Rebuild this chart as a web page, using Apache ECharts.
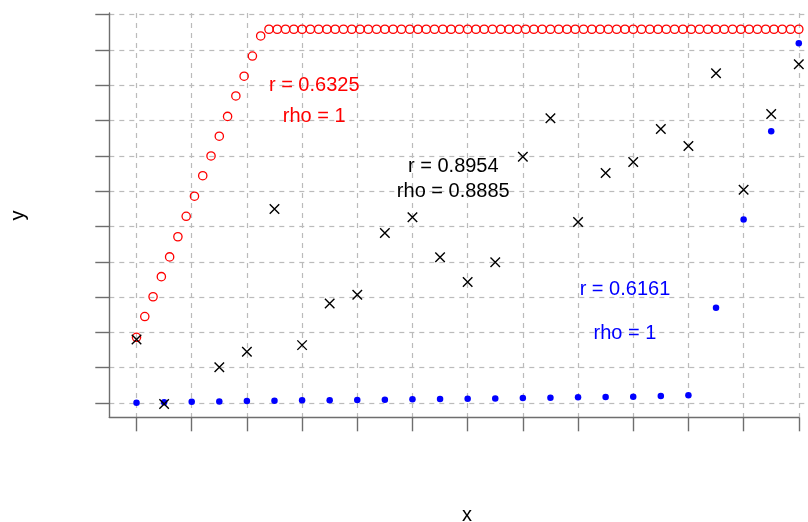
<!DOCTYPE html>
<html>
<head>
<meta charset="utf-8">
<script src="https://cdn.jsdelivr.net/npm/echarts@6/dist/echarts.min.js"></script>
<style>
html,body{margin:0;padding:0;background:#fff;}
#chart{width:808px;height:522px;}
</style>
</head>
<body>
<div id="chart"></div>
<script>
// ---- data ----
const xTicks = [0,1,2,3,4,5,6,7,8,9,10,11,12];
const yTicks = [0,1,2,3,4,5,6,7,8,9,10,11];

const redX = [0,0.15,0.3,0.45,0.6,0.75,0.9,1.05,1.2,1.35,
  1.5,1.65,1.8,1.95,2.1,2.25,2.4,2.55,2.7,2.85,
  3,3.15,3.3,3.45,3.6,3.75,3.9,4.05,4.2,4.35,
  4.5,4.65,4.8,4.95,5.1,5.25,5.4,5.55,5.7,5.85,
  6,6.15,6.3,6.45,6.6,6.75,6.9,7.05,7.2,7.35,
  7.5,7.65,7.8,7.95,8.1,8.25,8.4,8.55,8.7,8.85,
  9,9.15,9.3,9.45,9.6,9.75,9.9,10.05,10.2,10.35,
  10.5,10.65,10.8,10.95,11.1,11.25,11.4,11.55,11.7,11.85,
  12];
const redY = [1.86,2.45,3.01,3.58,4.14,4.71,5.29,5.86,6.44,7.0,
  7.56,8.12,8.7,9.26,9.83,10.4,
  10.59,10.59,10.59,10.59,10.59,10.59,10.59,10.59,10.59,10.59,
  10.59,10.59,10.59,10.59,10.59,10.59,10.59,10.59,10.59,10.59,
  10.59,10.59,10.59,10.59,10.59,10.59,10.59,10.59,10.59,10.59,
  10.59,10.59,10.59,10.59,10.59,10.59,10.59,10.59,10.59,10.59,
  10.59,10.59,10.59,10.59,10.59,10.59,10.59,10.59,10.59,10.59,
  10.59,10.59,10.59,10.59,10.59,10.59,10.59,10.59,10.59,10.59,
  10.59,10.59,10.59,10.59,10.59];

const ptX = [0,0.5,1,1.5,2,2.5,3,3.5,4,4.5,5,5.5,6,6.5,7,7.5,8,8.5,9,9.5,10,10.5,11,11.5,12];
const blackY = [1.8,-0.03,null,1.01,1.45,5.5,1.64,2.82,3.07,4.82,5.26,4.13,3.43,3.99,6.98,8.07,5.13,6.52,6.83,7.76,7.28,9.34,6.04,8.19,9.6];
const blueY = [0.01,0.02,0.035,0.045,0.055,0.065,0.075,0.08,0.085,0.095,0.105,0.115,0.12,0.13,0.14,0.15,0.16,0.17,0.175,0.2,0.22,2.7,5.2,7.7,10.19];

const noteX = [3.22,3.22,5.74,5.74,8.85,8.85];
const noteY = [9.01,8.13,6.69,5.98,3.23,1.98];
const noteText = ['r = 0.6325','rho = 1','r = 0.8954','rho = 0.8885','r = 0.6161','rho = 1'];
const noteColor = ['#ff0000','#ff0000','#000000','#000000','#0000ff','#0000ff'];

const xTitle = 'x';
const yTitle = 'y';

// ---- layout ----
const FONT = '"Liberation Sans", Arial, Helvetica, sans-serif';
const gridCol = '#bbbbbb';
const axisCol = '#6e6e6e';
const pairs = (xs, ys) => xs.map((x, i) => [x, ys[i]]);

const hidden = {show:false};
const option = {
  animation:false,
  backgroundColor:'#ffffff',
  grid:[
    {left:109.3, right:9.2, top:13, bottom:104.7, outerBoundsMode:'none', containLabel:false},
    {left:136.5, right:9.2, top:13, bottom:104.7, outerBoundsMode:'none', containLabel:false},
    {left:109.3, right:0, top:14.7, bottom:119, outerBoundsMode:'none', containLabel:false}
  ],
  xAxis:[
    {gridIndex:0, type:'value', min:-0.493, max:12, axisLine:{show:true, onZero:false, lineStyle:{color:axisCol, width:1.4}},
      axisTick:hidden, axisLabel:hidden, splitLine:hidden},
    {gridIndex:1, type:'value', min:xTicks[0], max:xTicks[xTicks.length-1], interval:1,
      axisLine:{show:false}, axisTick:{show:true, length:14, inside:false, lineStyle:{color:axisCol, width:1.4}},
      axisLabel:hidden, splitLine:{show:true, lineStyle:{color:gridCol, width:1.2, type:[5,5]}}},
    {gridIndex:2, type:'value', min:0, max:1, show:false}
  ],
  yAxis:[
    {gridIndex:0, type:'value', min:-0.405, max:11.05, axisLine:{show:true, onZero:false, lineStyle:{color:axisCol, width:1.4}},
      axisTick:hidden, axisLabel:hidden, splitLine:hidden},
    {gridIndex:1, type:'value', min:0, max:1, show:false},
    {gridIndex:2, type:'value', min:yTicks[0], max:yTicks[yTicks.length-1], interval:1,
      axisLine:{show:false}, axisTick:{show:true, length:14, inside:false, lineStyle:{color:axisCol, width:1.4}},
      axisLabel:hidden, splitLine:{show:true, lineStyle:{color:gridCol, width:1.2, type:[5,5]}}}
  ],
  series:[
    {type:'scatter', xAxisIndex:0, yAxisIndex:0, clip:false, data:pairs(ptX, blueY),
      symbol:'circle', symbolSize:6.5, itemStyle:{color:'#0000ff', opacity:1}, z:3},
    {type:'scatter', xAxisIndex:0, yAxisIndex:0, clip:false, data:pairs(redX, redY),
      symbol:'circle', symbolSize:8.3, itemStyle:{color:'rgba(0,0,0,0)', borderColor:'#ff0000', borderWidth:1.3, opacity:1}, z:4},
    {type:'scatter', xAxisIndex:0, yAxisIndex:0, clip:false, data:pairs(ptX, blackY).filter(p => p[1] !== null),
      symbol:'path://M0,0L10,10M10,0L0,10', symbolSize:9.5, symbolKeepAspect:true,
      itemStyle:{color:'rgba(0,0,0,0)', borderColor:'#000000', borderWidth:1.4, opacity:1}, z:5},
    {type:'scatter', xAxisIndex:0, yAxisIndex:0, clip:false, symbolSize:1, itemStyle:{color:'rgba(0,0,0,0)', opacity:1}, z:6,
      data:noteX.map((x, i) => ({value:[x, noteY[i]], label:{color:noteColor[i], formatter:noteText[i]}})),
      label:{show:true, position:'inside', fontFamily:FONT, fontSize:20, align:'center', verticalAlign:'middle', opacity:1}}
  ],
  graphic:[
    {type:'text', style:{text:xTitle, font:'20px ' + FONT, fill:'#000', align:'center', verticalAlign:'middle'}, x:467, y:515.5},
    {type:'text', style:{text:yTitle, font:'20px ' + FONT, fill:'#000', align:'center', verticalAlign:'middle'}, x:18, y:215.5, rotation:Math.PI/2}
  ]
};

const chart = echarts.init(document.getElementById('chart'), null, {renderer:'canvas'});
chart.setOption(option);
</script>
</body>
</html>
